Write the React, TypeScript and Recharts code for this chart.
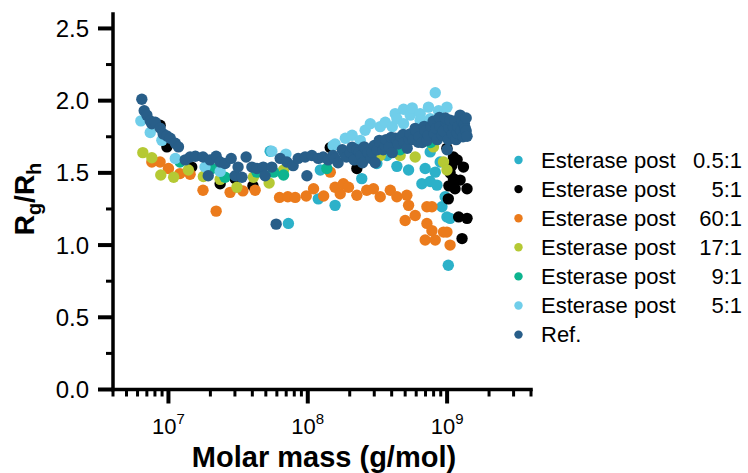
import React from 'react';
import { ScatterChart, Scatter, XAxis, YAxis, Customized } from 'recharts';

const FONT = '"Liberation Sans", Arial, Helvetica, sans-serif';

// [molar mass (g/mol), Rg/Rh]
const esterase05: number[][] = [
  [5.37e7, 1.65], [7.26e7, 1.15], [1.19e8, 1.32], [1.23e8, 1.52], [1.57e8, 1.275],
  [2.44e8, 1.46], [3.13e8, 1.565], [3.7e8, 1.62], [4.36e8, 1.545], [5.29e8, 1.52],
  [6.96e8, 1.53], [6.59e8, 1.425], [7.56e8, 1.44], [8.45e8, 1.415], [8.22e8, 1.505],
  [8.92e8, 1.575], [7.56e8, 1.645], [9.68e8, 1.335], [9.18e8, 1.265], [9.97e8, 1.195],
  [1.05e9, 1.185], [1.02e9, 0.86],
];

const esterase5a: number[][] = [
  [8.71e6, 1.83], [9.75e6, 1.68], [1.47e7, 1.54], [2.35e7, 1.425], [3.01e7, 1.46],
  [4.04e7, 1.41], [1.45e8, 1.675], [2.25e8, 1.53], [9.97e8, 1.67], [1.11e9, 1.61],
  [1.08e9, 1.55], [1.31e9, 1.54], [1.11e9, 1.46], [1.24e9, 1.45], [1.14e9, 1.39],
  [1.39e9, 1.39], [1.02e9, 1.32], [1.21e9, 1.195], [1.39e9, 1.185], [1.28e9, 1.045],
  [1.05e9, 1.5], [1.18e9, 1.59], [1.03e9, 1.41],
];

const esterase60: number[][] = [
  [7.6e6, 1.575], [8.71e6, 1.575], [1.0e7, 1.53], [1.21e7, 1.495], [1.43e7, 1.49],
  [1.77e7, 1.38], [2.2e7, 1.235], [2.77e7, 1.365], [3.42e7, 1.375], [4.19e7, 1.38],
  [6.27e7, 1.33], [7.19e7, 1.335], [8.12e7, 1.33], [9.75e7, 1.34], [1.1e8, 1.39],
  [1.3e8, 1.34], [1.45e8, 1.505], [1.57e8, 1.4], [1.71e8, 1.355], [1.8e8, 1.425],
  [1.96e8, 1.4], [2.25e8, 1.345], [2.65e8, 1.38], [2.96e8, 1.39], [3.31e8, 1.335],
  [3.91e8, 1.38], [4.36e8, 1.335], [5.14e8, 1.345], [5.29e8, 1.275], [5.0e8, 1.17],
  [5.9e8, 1.205], [7.16e8, 1.265], [7.78e8, 1.265], [7.16e8, 1.15], [7.78e8, 1.1],
  [6.96e8, 1.035], [8.22e8, 1.035], [9.42e8, 1.09], [9.97e8, 1.09], [1.05e9, 1.0],
];

const esterase17: number[][] = [
  [6.55e6, 1.64], [7.6e6, 1.605], [8.81e6, 1.485], [1.09e7, 1.47], [1.39e7, 1.52],
  [1.78e7, 1.475], [2.35e7, 1.455], [3.1e7, 1.4], [4.07e7, 1.47], [5.28e7, 1.43],
  [6.7e7, 1.52], [2.38e8, 1.59], [3.31e8, 1.62], [4.6e8, 1.62], [5.9e8, 1.61],
  [7.98e8, 1.68], [9.42e8, 1.575], [9.97e8, 1.52],
];

const esterase9: number[][] = [
  [1.21e7, 1.575], [2.05e7, 1.53], [2.55e7, 1.47], [4.32e7, 1.505], [5.68e7, 1.505],
  [6.7e7, 1.485], [1.37e8, 1.53], [4.6e8, 1.66], [7.6e8, 1.71],
];

const esterase5b: number[][] = [
  [6.34e6, 1.86], [7.4e6, 1.78], [8.97e6, 1.725], [1.12e7, 1.6], [1.83e7, 1.54],
  [2.35e7, 1.51], [5.52e7, 1.65], [6.97e7, 1.63], [1.52e8, 1.69], [1.57e8, 1.7],
  [1.86e8, 1.74], [2.08e8, 1.76], [2.38e8, 1.725], [2.58e8, 1.795], [2.81e8, 1.84],
  [3.31e8, 1.82], [3.6e8, 1.85], [4.04e8, 1.82], [4.24e8, 1.91], [4.36e8, 1.875],
  [4.87e8, 1.94], [4.87e8, 1.84], [5.43e8, 1.9], [5.62e8, 1.95], [6.41e8, 1.91],
  [6.41e8, 1.865], [7.35e8, 1.955], [7.56e8, 1.875], [8.22e8, 2.055], [8.68e8, 1.93],
  [9.97e8, 1.955],
];

const reference: number[][] = [
  [6.44e6, 2.01], [6.7e6, 1.93], [7.0e6, 1.9], [7.4e6, 1.86], [7.6e6, 1.84],
  [8.04e6, 1.85], [8.71e6, 1.81], [9.16e6, 1.77], [9.75e6, 1.755], [1.03e7, 1.74],
  [1.12e7, 1.705], [1.18e7, 1.68], [1.32e7, 1.59], [1.43e7, 1.61], [1.56e7, 1.615],
  [1.77e7, 1.61], [1.93e7, 1.48], [1.99e7, 1.59], [2.2e7, 1.615], [2.35e7, 1.575],
  [2.55e7, 1.565], [2.82e7, 1.6], [3.01e7, 1.48], [3.16e7, 1.54], [3.37e7, 1.47],
  [3.61e7, 1.61], [3.97e7, 1.54], [4.32e7, 1.53], [4.79e7, 1.54], [4.94e7, 1.48],
  [5.52e7, 1.54], [5.93e7, 1.145], [6.34e7, 1.6], [7.08e7, 1.575], [7.85e7, 1.55],
  [8.53e7, 1.6], [9.57e7, 1.61], [9.86e7, 1.48], [1.07e8, 1.62], [1.19e8, 1.6],
  [1.29e8, 1.61], [1.4e8, 1.59], [1.52e8, 1.62], [1.57e8, 1.6], [1.65e8, 1.57],
  [1.77e8, 1.66], [1.83e8, 1.635], [1.89e8, 1.61], [2.02e8, 1.64], [2.08e8, 1.677],
  [2.15e8, 1.59], [2.26e8, 1.66], [2.34e8, 1.642], [2.42e8, 1.62], [2.47e8, 1.57],
  [2.54e8, 1.68], [2.62e8, 1.663], [2.71e8, 1.64], [2.85e8, 1.6], [2.9e8, 1.642],
  [3.0e8, 1.69], [3.05e8, 1.57], [3.15e8, 1.66], [3.26e8, 1.725], [3.31e8, 1.71],
  [3.48e8, 1.66], [3.6e8, 1.684], [3.65e8, 1.73], [3.84e8, 1.68], [3.97e8, 1.746],
  [4.04e8, 1.64], [4.24e8, 1.74], [4.39e8, 1.718], [4.46e8, 1.7], [4.68e8, 1.75],
  [4.84e8, 1.766], [4.92e8, 1.71], [5.17e8, 1.67], [5.35e8, 1.732], [5.43e8, 1.77],
  [5.71e8, 1.73], [5.9e8, 1.808], [6.0e8, 1.79], [6.21e8, 1.712], [6.3e8, 1.75],
  [6.62e8, 1.71], [6.85e8, 1.822], [6.96e8, 1.79], [7.19e8, 1.725], [7.32e8, 1.76],
  [7.69e8, 1.82], [7.94e8, 1.857], [8.08e8, 1.77], [8.35e8, 1.808], [8.49e8, 1.73],
  [8.79e8, 1.884], [8.92e8, 1.82], [9.22e8, 1.76], [9.38e8, 1.79], [9.85e8, 1.85],
  [9.7e8, 1.88], [1.0e9, 1.66], [1.02e9, 1.73], [1.035e9, 1.81], [1.05e9, 1.864],
  [1.09e9, 1.77], [1.11e9, 1.815], [1.14e9, 1.86], [1.16e9, 1.73], [1.18e9, 1.774],
  [1.2e9, 1.82], [1.24e9, 1.9], [1.26e9, 1.79], [1.28e9, 1.857], [1.3e9, 1.75],
  [1.33e9, 1.84], [1.35e9, 1.808], [1.37e9, 1.88], [1.37e9, 1.79], [1.39e9, 1.753],
];

const seriesData = [esterase05, esterase5a, esterase60, esterase17, esterase9, esterase5b, reference];
const seriesPrefix = ['Esterase post', 'Esterase post', 'Esterase post', 'Esterase post', 'Esterase post', 'Esterase post', 'Ref.'];
const seriesRatio = ['0.5:1', '5:1', '60:1', '17:1', '9:1', '5:1', ''];
const seriesColors = ['#2CB1C9', '#000000', '#EB7B1C', '#B5C934', '#0DB48F', '#70CEEA', '#285E89'];

const xMajorTicks = [1e7, 1e8, 1e9];
const xMinorTicks = [
  4e6, 5e6, 6e6, 7e6, 8e6, 9e6,
  2e7, 3e7, 4e7, 5e7, 6e7, 7e7, 8e7, 9e7,
  2e8, 3e8, 4e8, 5e8, 6e8, 7e8, 8e8, 9e8,
  2e9, 3e9, 4e9,
];
const yTickValues = [0, 0.25, 0.5, 0.75, 1, 1.25, 1.5, 1.75, 2, 2.25, 2.5];
const xTitle = 'Molar mass (g/mol)';

const XTick = (props: any) => {
  const { x, y, payload } = props;
  const v = payload.value as number;
  const exp = Math.round(Math.log10(v));
  const major = xMajorTicks.includes(v);
  return (
    <g>
      <line x1={x} x2={x} y1={y} y2={y + (major ? 14 : 7)} stroke="#000" strokeWidth={major ? 4 : 3} />
      {major && (
        <text x={x} y={y + 44} textAnchor="middle" fontFamily={FONT} fontSize={22} fill="#000">
          10<tspan dy={-10} fontSize={15}>{exp}</tspan>
        </text>
      )}
    </g>
  );
};

const YTick = (props: any) => {
  const { x, y, payload } = props;
  const v = payload.value as number;
  const major = Math.abs(v * 2 - Math.round(v * 2)) < 1e-6;
  return (
    <g>
      <line x1={x} x2={x - (major ? 15 : 7)} y1={y} y2={y} stroke="#000" strokeWidth={major ? 4 : 3} />
      {major && (
        <text x={x - 24} y={y} textAnchor="end" dominantBaseline="central" fontFamily={FONT} fontSize={24} fill="#000">
          {v.toFixed(1)}
        </text>
      )}
    </g>
  );
};

const Decorations = () => (
  <g>
    <text x={324} y={467} textAnchor="middle" fontFamily={FONT} fontWeight="bold" fontSize={29} fill="#000">
      {xTitle}
    </text>
    <text
      x={0}
      y={0}
      transform="translate(34,199) rotate(-90)"
      textAnchor="middle"
      fontFamily={FONT}
      fontWeight="bold"
      fontSize={28}
      fill="#000"
    >
      R<tspan dy={7} fontSize={20}>g</tspan>
      <tspan dy={-7}>/R</tspan>
      <tspan dy={7} fontSize={20}>h</tspan>
    </text>
    {seriesColors.map((c, i) => {
      const cy = 160 + i * 29.1;
      return (
        <g key={i}>
          <circle cx={518.5} cy={cy} r={4.2} fill={c} />
          <text x={541} y={cy} dominantBaseline="central" fontFamily={FONT} fontSize={22} fill="#000">
            {seriesPrefix[i]}
          </text>
          {seriesRatio[i] && (
            <text x={742} y={cy} textAnchor="end" dominantBaseline="central" fontFamily={FONT} fontSize={22} fill="#000">
              {seriesRatio[i]}
            </text>
          )}
        </g>
      );
    })}
  </g>
);

export default function App() {
  const allXTicks = [...xMinorTicks, ...xMajorTicks].sort((a, b) => a - b);
  return (
    <div style={{ position: 'absolute', left: 0, top: 0, width: 748, height: 473, background: '#fff' }}>
      <ScatterChart width={748} height={473} margin={{ top: 14, right: 217, left: 0, bottom: 0 }}>
        <XAxis
          type="number"
          dataKey="x"
          scale="log"
          domain={[4e6, 4e9]}
          allowDataOverflow
          ticks={allXTicks}
          interval={0}
          tickSize={0}
          tickMargin={0}
          tickLine={false}
          height={83.5}
          tick={<XTick />}
          axisLine={{ stroke: '#000', strokeWidth: 3.5, strokeLinecap: 'square' }}
        />
        <YAxis
          type="number"
          dataKey="y"
          domain={[0, 2.6]}
          allowDataOverflow
          ticks={yTickValues}
          interval={0}
          tickSize={0}
          tickMargin={0}
          tickLine={false}
          width={113}
          tick={<YTick />}
          axisLine={{ stroke: '#000', strokeWidth: 3.5, strokeLinecap: 'square' }}
        />
        {seriesData.map((d, i) => (
          <Scatter
            key={i}
            name={`${seriesPrefix[i]} ${seriesRatio[i]}`}
            data={d.map(([x, y]) => ({ x, y }))}
            fill={seriesColors[i]}
            isAnimationActive={false}
            shape={(p: any) => <circle cx={p.cx} cy={p.cy} r={5.7} fill={seriesColors[i]} />}
          />
        ))}
        <Customized component={Decorations} />
      </ScatterChart>
    </div>
  );
}
